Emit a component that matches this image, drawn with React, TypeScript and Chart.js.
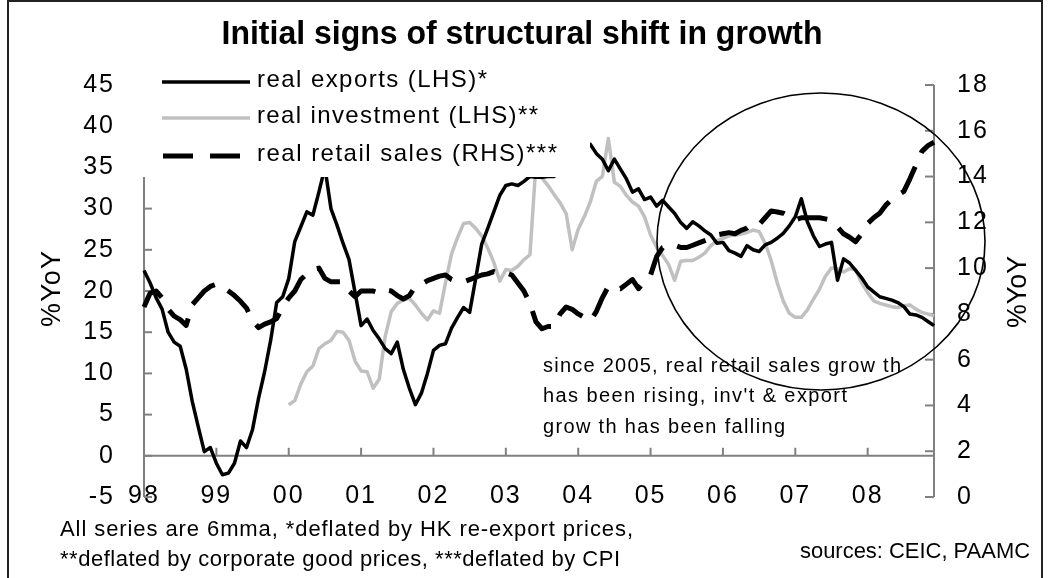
import React, { useEffect, useRef } from 'react';
import { Chart, registerables } from 'chart.js';

Chart.register(...registerables);

const FONT = '"Liberation Sans", Arial, Helvetica, sans-serif';

// tick labels for the category (year) axis
const yearLabels = ['98', '99', '00', '01', '02', '03', '04', '05', '06', '07', '08'];
const monthCodes = ['01', '02', '03', '04', '05', '06', '07', '08', '09', '10', '11', '12'];
// monthly categories Jan-1998 .. Dec-2008
const categories = yearLabels.flatMap((y) => monthCodes.map((m) => `${y}-${m}`));

// real exports, %YoY (LHS)
const realExports = [
  22.5, 21.0, 19.2, 17.8, 15.0, 13.8, 13.3, 10.5, 6.6, 3.5, 0.5, 1.0,
  -0.9, -2.3, -2.1, -0.9, 1.8, 1.0, 3.2, 7.0, 10.2, 14.0, 18.6, 19.3,
  21.5, 26.0, 27.8, 29.6, 29.2, 32.0, 35.0, 30.0, 28.0, 25.8, 23.8, 19.8,
  15.8, 16.6, 15.2, 14.2, 13.0, 12.4, 13.8, 10.5, 8.2, 6.2, 7.6, 10.0,
  12.8, 13.4, 13.6, 15.5, 16.8, 18.0, 17.4, 21.5, 25.7, 27.6, 29.6, 31.6,
  32.8, 33.0, 32.8, 33.3, 33.9, 33.8, 33.8, 33.9, 33.9, 35.0, 36.5, 37.2,
  37.6, 37.9, 37.8, 36.7, 36.0, 34.6, 36.0, 34.8, 33.6, 32.0, 32.4, 31.1,
  31.4, 30.3, 31.0, 30.2, 29.4, 28.3, 27.6, 28.4, 27.9, 27.3, 26.8, 25.8,
  25.9, 24.9, 24.6, 24.2, 25.5, 25.0, 24.8, 25.6, 25.9, 26.4, 27.0, 27.9,
  29.0, 31.2, 28.4, 26.7, 25.4, 25.7, 25.9, 21.3, 23.9, 23.4, 22.5, 21.6,
  20.5, 19.9, 19.3, 19.1, 18.9, 18.6, 18.1, 17.2, 17.1, 16.8, 16.3, 15.8,
];

// real investment, %YoY (LHS) - starts in 2000
const realInvestment = [
  null, null, null, null, null, null, null, null, null, null, null, null,
  null, null, null, null, null, null, null, null, null, null, null, null,
  6.2, 6.7, 8.7, 10.2, 10.9, 13.0, 13.6, 14.0, 15.1, 15.0, 14.0, 11.5,
  10.3, 10.2, 8.2, 9.3, 14.5, 17.5, 18.5, 18.9, 19.1, 18.3, 17.3, 16.5,
  17.6, 17.3, 21.0, 24.5, 26.5, 28.2, 28.3, 27.6, 26.7, 25.2, 23.5, 21.2,
  22.6, 22.5, 23.0, 23.8, 24.4, 35.5, 33.7, 32.8, 31.7, 30.7, 29.4, 25.0,
  27.5, 29.0, 30.8, 33.3, 33.9, 38.5, 33.2, 32.7, 31.6, 30.8, 30.3, 29.0,
  26.8, 25.3, 24.3, 23.2, 21.3, 23.6, 23.7, 23.7, 24.1, 24.6, 25.5, 26.1,
  26.4, 26.7, 26.8, 26.9, 27.1, 27.4, 27.2, 25.8, 23.7, 21.0, 18.8, 17.3,
  16.8, 16.8, 17.7, 19.0, 20.2, 21.8, 22.8, 22.7, 22.3, 22.7, 22.6, 21.0,
  19.8, 18.8, 18.5, 18.3, 18.1, 18.0, 18.2, 18.3, 17.8, 17.4, 17.2, 17.0,
];

// real retail sales, %YoY (RHS)
const realRetailSales = [
  8.3, 8.9, 9.0, 8.7, 8.2, 7.9, 7.75, 7.5, 8.4, 8.7, 9.0, 9.2,
  9.3, 9.2, 9.0, 8.8, 8.55, 8.25, 7.7, 7.4, 7.55, 7.65, 7.8, 8.3,
  8.7, 9.0, 9.5, 9.75, 9.95, 10.0, 9.55, 9.4, 9.4, 9.4, 9.0, 8.75,
  9.0, 9.0, 9.0, 8.9, 9.05, 9.0, 8.8, 8.65, 8.8, 9.2, 9.3, 9.45,
  9.55, 9.65, 9.7, 9.5, 9.4, 9.4, 9.5, 9.6, 9.7, 9.75, 9.85, 9.75,
  9.8, 9.7, 9.35, 9.0, 8.45, 7.65, 7.35, 7.45, 7.45, 8.0, 8.3, 8.2,
  8.0, 7.85, 7.7, 8.1, 8.7, 9.2, 9.15, 9.1, 9.3, 9.5, 9.1, 9.4,
  9.7, 10.5, 10.9, 11.0, 11.0, 10.9, 10.9, 11.0, 11.1, 11.2, 11.3, 11.45,
  11.5, 11.55, 11.5, 11.65, 11.75, 11.95, 11.9, 12.2, 12.5, 12.45, 12.4, 12.25,
  12.1, 12.2, 12.2, 12.2, 12.2, 12.15, 12.1, 11.8, 11.5, 11.35, 11.15, 11.5,
  11.95, 12.2, 12.4, 12.75, 13.0, 13.2, 13.35, 13.9, 14.5, 15.1, 15.35, 15.5,
];

const seriesNames = ['real exports (LHS)*', 'real investment (LHS)**', 'real retail sales (RHS)***'];
const titleText = 'Initial signs of structural shift in growth';
const noteLines = [
  'since 2005, real retail sales grow th',
  "has been rising, inv't & export",
  'grow th has been falling',
];
const footLines = [
  'All series are 6mma, *deflated by HK re-export prices,',
  '**deflated by corporate good prices, ***deflated by CPI',
];
const sourceText = 'sources: CEIC, PAAMC';
const axisTitle = '%YoY';

type Align = 'left' | 'center' | 'right';

function fitText(
  ctx: CanvasRenderingContext2D,
  text: string,
  x: number,
  y: number,
  size: number,
  width: number,
  align: Align,
  bold = false,
  color = '#000'
) {
  ctx.save();
  ctx.font = `${bold ? 'bold ' : ''}${size}px ${FONT}`;
  (ctx as any).letterSpacing = '0px';
  const natural = ctx.measureText(text).width;
  let sx = 1;
  let ls = 0;
  if (width > natural) ls = (width - natural) / Math.max(1, text.length - 1);
  else sx = width / natural;
  const x0 = align === 'left' ? x : align === 'center' ? x - width / 2 : x - width;
  (ctx as any).letterSpacing = `${ls}px`;
  ctx.textAlign = 'left';
  ctx.textBaseline = 'middle';
  ctx.fillStyle = color;
  ctx.translate(x0, y);
  ctx.scale(sx, 1);
  ctx.fillText(text, 0, 0);
  ctx.restore();
}

function fitTextVertical(
  ctx: CanvasRenderingContext2D,
  text: string,
  cx: number,
  cy: number,
  size: number,
  length: number
) {
  ctx.save();
  ctx.translate(cx, cy);
  ctx.rotate(-Math.PI / 2);
  fitText(ctx, text, 0, 0, size, length, 'center');
  ctx.restore();
}

function seg(ctx: CanvasRenderingContext2D, x1: number, y1: number, x2: number, y2: number) {
  ctx.beginPath();
  ctx.moveTo(x1, y1);
  ctx.lineTo(x2, y2);
  ctx.stroke();
}

const decorPlugin = {
  id: 'decor',
  beforeDraw(chart: any) {
    (chart.ctx as any).letterSpacing = '2px';
  },
  beforeDatasetsDraw(chart: any) {
    const ctx: CanvasRenderingContext2D = chart.ctx;
    const { left, right, top, bottom } = chart.chartArea;
    const yL = chart.scales.y;
    const yR = chart.scales.y2;
    const xs = chart.scales.x;
    ctx.save();
    ctx.strokeStyle = '#808080';
    ctx.lineWidth = 2;
    // left axis + inward ticks
    seg(ctx, left, top, left, bottom);
    yL.ticks.forEach((t: any) => {
      const py = yL.getPixelForValue(t.value);
      seg(ctx, left, py, left + 8, py);
    });
    // right axis + inward ticks
    seg(ctx, right, top, right, bottom);
    yR.ticks.forEach((t: any) => {
      const py = yR.getPixelForValue(t.value);
      seg(ctx, right - 9, py, right, py);
    });
    // category axis crossing at 0
    const y0 = yL.getPixelForValue(0);
    seg(ctx, left, y0, right, y0);
    for (let i = 12; i < categories.length; i += 12) {
      const px = xs.getPixelForValue(i);
      seg(ctx, px, y0, px, y0 - 8);
    }
    ctx.restore();
  },
  afterDatasetsDraw(chart: any) {
    const ctx: CanvasRenderingContext2D = chart.ctx;
    ctx.save();
    (ctx as any).letterSpacing = '0px';

    // legend (opaque box over the plot)
    ctx.fillStyle = '#ffffff';
    ctx.fillRect(128, 60, 462, 117);
    const rows = [82, 118, 156];
    ctx.lineCap = 'butt';
    ctx.strokeStyle = '#000';
    ctx.lineWidth = 3.5;
    seg(ctx, 162, rows[0], 250, rows[0]);
    ctx.strokeStyle = '#c0c0c0';
    seg(ctx, 162, rows[1], 250, rows[1]);
    ctx.strokeStyle = '#000';
    ctx.lineWidth = 5;
    ctx.setLineDash([30, 17]);
    seg(ctx, 163, rows[2], 240, rows[2]);
    ctx.setLineDash([]);
    const legendWidths = [230, 281, 300];
    seriesNames.forEach((n, i) => fitText(ctx, n, 257, rows[i] - 2, 24, legendWidths[i], 'left'));

    // annotation
    const noteWidths = [358, 304, 242];
    const noteY = [366, 396, 427];
    noteLines.forEach((t, i) => fitText(ctx, t, 543, noteY[i], 20, noteWidths[i], 'left'));

    // circle highlight
    ctx.strokeStyle = '#000';
    ctx.lineWidth = 1.6;
    ctx.beginPath();
    ctx.ellipse(821, 241.5, 164, 148.5, 0, 0, Math.PI * 2);
    ctx.stroke();

    // title
    fitText(ctx, titleText, 522, 35, 34, 601, 'center', true);

    // axis titles
    fitTextVertical(ctx, axisTitle, 53, 289, 27, 76);
    fitTextVertical(ctx, axisTitle, 1019, 292, 27, 72);

    // footnotes
    fitText(ctx, footLines[0], 60, 530, 22, 573, 'left');
    fitText(ctx, footLines[1], 60, 560, 22, 560, 'left');
    fitText(ctx, sourceText, 1030, 552, 22, 230, 'right');

    // outer frame
    ctx.strokeStyle = '#222';
    ctx.lineWidth = 2;
    ctx.strokeRect(8, 1, 1034, 640);
    ctx.restore();
  },
};

export default function App() {
  const canvasRef = useRef<HTMLCanvasElement | null>(null);

  useEffect(() => {
    const canvas = canvasRef.current;
    if (!canvas) return;
    const tickFont = { family: FONT, size: 25 };
    const chart = new Chart(canvas, {
      type: 'line',
      data: {
        labels: categories,
        datasets: [
          {
            label: seriesNames[0],
            data: realExports,
            yAxisID: 'y',
            borderColor: '#000000',
            borderWidth: 3.5,
            order: 1,
          },
          {
            label: seriesNames[1],
            data: realInvestment,
            yAxisID: 'y',
            borderColor: '#c0c0c0',
            borderWidth: 3.5,
            order: 2,
          },
          {
            label: seriesNames[2],
            data: realRetailSales,
            yAxisID: 'y2',
            borderColor: '#000000',
            borderWidth: 5,
            borderDash: [30, 15],
            borderCapStyle: 'butt',
            order: 0,
          },
        ],
      },
      options: {
        responsive: false,
        animation: false,
        layout: { padding: { top: 85, left: 0, right: 0, bottom: 0 } },
        elements: {
          point: { radius: 0, hoverRadius: 0 },
          line: { tension: 0, borderJoinStyle: 'round', fill: false },
        },
        plugins: {
          legend: { display: false },
          title: { display: false },
          tooltip: { enabled: false },
        },
        events: [],
        scales: {
          x: {
            type: 'category',
            offset: false,
            grid: { display: false, drawTicks: false },
            border: { display: false },
            ticks: {
              autoSkip: false,
              maxRotation: 0,
              minRotation: 0,
              mirror: true,
              padding: -14,
              color: '#000',
              font: tickFont,
              callback: (_v: any, index: number) => (index % 12 === 0 ? yearLabels[index / 12] : null),
            },
            afterFit: (s: any) => {
              s.height = 81;
            },
          },
          y: {
            position: 'left',
            min: -5,
            max: 45,
            grid: { display: false, drawTicks: false },
            border: { display: false },
            ticks: { stepSize: 5, padding: 29, color: '#000', font: tickFont },
            afterFit: (s: any) => {
              s.width = 144;
            },
          },
          y2: {
            position: 'right',
            min: 0,
            max: 18,
            grid: { display: false, drawTicks: false },
            border: { display: false },
            ticks: { stepSize: 2, padding: 23, color: '#000', font: tickFont },
            afterFit: (s: any) => {
              s.width = 116;
            },
          },
        },
      } as any,
      plugins: [decorPlugin],
    });
    return () => chart.destroy();
  }, []);

  return (
    <div style={{ position: 'fixed', left: 0, top: 0, width: 1050, height: 578, background: '#fff' }}>
      <canvas ref={canvasRef} width={1050} height={578} style={{ display: 'block' }} />
    </div>
  );
}
